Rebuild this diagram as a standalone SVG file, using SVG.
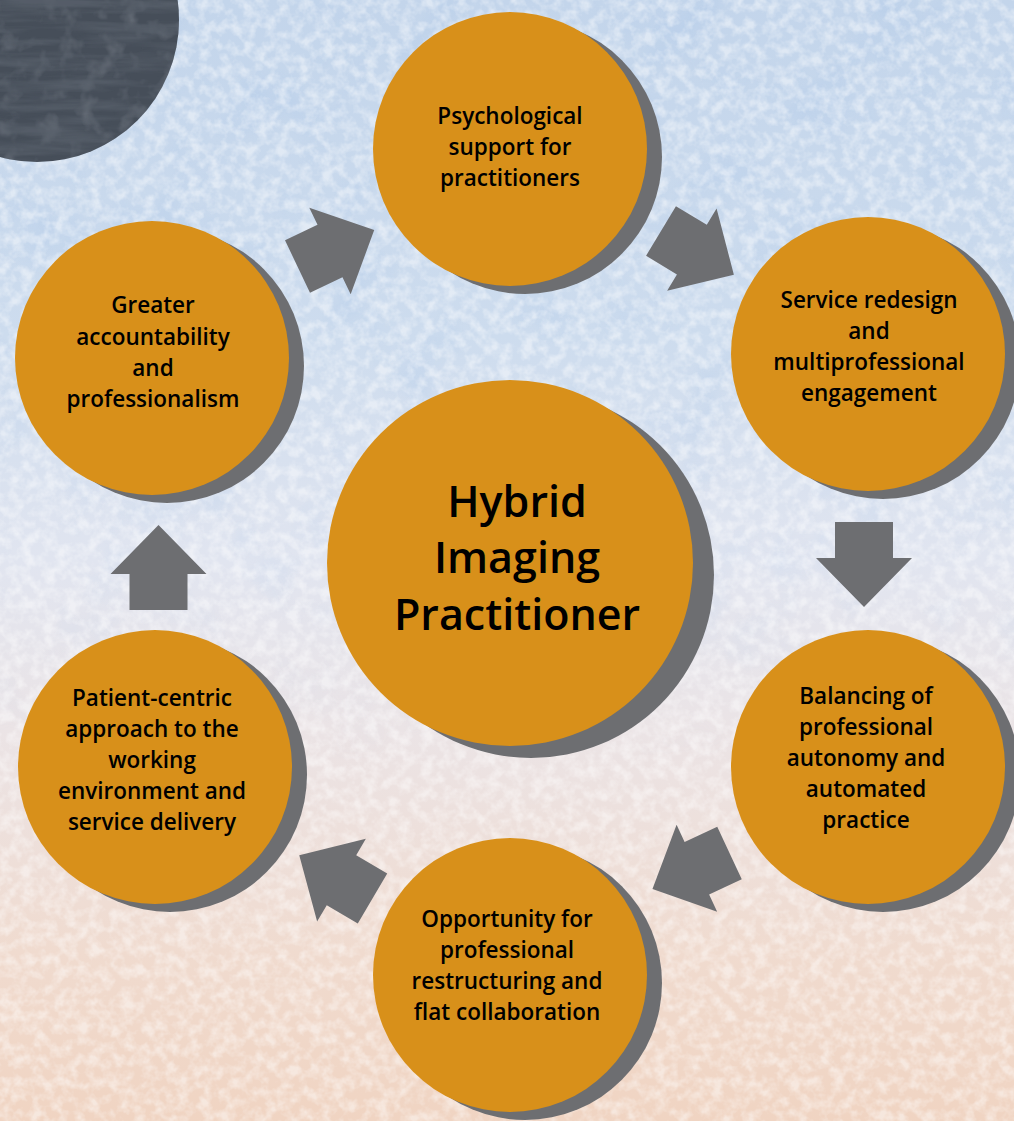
<svg xmlns="http://www.w3.org/2000/svg" width="1014" height="1121" viewBox="0 0 1014 1121">
<style>
.sh{fill:#6d6e71}
.nd{fill:#d8901a}
.arr{fill:#6d6e71}
.lbl{font-family:"Open Sans","Liberation Sans",sans-serif;font-weight:600;font-size:22.5px;fill:#000;text-anchor:middle}
.big{font-size:43px}
</style>
<defs>
<linearGradient id="bg" x1="0" y1="0" x2="0" y2="1">
<stop offset="0" stop-color="#c3d5eb"/>
<stop offset="0.3" stop-color="#cddcee"/>
<stop offset="0.5" stop-color="#e1e5f0"/>
<stop offset="0.65" stop-color="#ebe4e6"/>
<stop offset="0.85" stop-color="#f0dbcf"/>
<stop offset="1" stop-color="#f0d4c2"/>
</linearGradient>
<filter id="tex" x="0" y="0" width="100%" height="100%">
<feTurbulence type="fractalNoise" baseFrequency="0.09" numOctaves="3" seed="7"/>
<feColorMatrix type="matrix" values="0 0 0 0 1  0 0 0 0 1  0 0 0 0 1  2.6 0 0 0 -1.0"/>
</filter>
<filter id="tex2" x="0" y="0" width="100%" height="100%">
<feTurbulence type="fractalNoise" baseFrequency="0.015" numOctaves="4" seed="2"/>
<feColorMatrix type="matrix" values="0 0 0 0 0.45  0 0 0 0 0.6  0 0 0 0 0.82  0 2.6 0 0 -1.3"/>
</filter>
<filter id="slate" x="0" y="0" width="100%" height="100%">
<feTurbulence type="fractalNoise" baseFrequency="0.01 0.09" numOctaves="4" seed="5"/>
<feColorMatrix type="matrix" values="0 0 0 0 0.1  0 0 0 0 0.12  0 0 0 0 0.15  2.4 0 0 0 -0.9"/>
</filter>
<filter id="slate2" x="0" y="0" width="100%" height="100%">
<feTurbulence type="fractalNoise" baseFrequency="0.05" numOctaves="3" seed="9"/>
<feColorMatrix type="matrix" values="0 0 0 0 0.5  0 0 0 0 0.53  0 0 0 0 0.58  0 2.0 0 0 -1.0"/>
</filter>
<linearGradient id="fadeBlue" x1="0" y1="0" x2="0" y2="1">
<stop offset="0" stop-color="#fff" stop-opacity="1"/>
<stop offset="0.5" stop-color="#fff" stop-opacity="0.5"/>
<stop offset="0.68" stop-color="#fff" stop-opacity="0"/>
</linearGradient>
<mask id="blueMask"><rect width="1014" height="1121" fill="url(#fadeBlue)"/></mask>
<clipPath id="darkClip"><circle cx="37" cy="20" r="142"/></clipPath>
<path id="arrow" d="M0,-29 H36 V-48 L85,0 L36,48 V29 H0 Z"/>
</defs>

<g id="background">
<rect width="1014" height="1121" fill="url(#bg)"/>
<rect width="1014" height="1121" filter="url(#tex2)" mask="url(#blueMask)" opacity="0.5"/>
<rect width="1014" height="1121" filter="url(#tex)" opacity="0.45"/>
<g clip-path="url(#darkClip)">
<rect x="-110" y="-130" width="300" height="300" fill="#464e59"/>
<rect x="-110" y="-130" width="300" height="300" filter="url(#slate2)" opacity="0.35"/>
<rect x="-110" y="-130" width="300" height="300" filter="url(#slate)" opacity="0.8"/>
</g>
</g>

<g id="connectors">
<use href="#arrow" class="arr" transform="translate(297.5,266.5) rotate(-25.5)"/>
<use href="#arrow" class="arr" transform="translate(661,231) rotate(31)"/>
<use href="#arrow" class="arr" transform="translate(864,522) rotate(90)"/>
<use href="#arrow" class="arr" transform="translate(729.5,853) rotate(155)"/>
<use href="#arrow" class="arr" transform="translate(372.5,898.5) rotate(-149.5)"/>
<use href="#arrow" class="arr" transform="translate(158.5,610) rotate(-90)"/>
</g>

<g id="node-psychological">
<circle class="sh" cx="525" cy="157" r="137"/>
<circle class="nd" cx="510" cy="149" r="137"/>
<text class="lbl"><tspan x="510" y="124">Psychological</tspan><tspan x="510" y="155">support for</tspan><tspan x="510" y="186">practitioners</tspan></text>
</g>

<g id="node-service">
<circle class="sh" cx="883" cy="362" r="137"/>
<circle class="nd" cx="868" cy="354" r="137"/>
<text class="lbl"><tspan x="869" y="308">Service redesign</tspan><tspan x="869" y="339">and</tspan><tspan x="869" y="370">multiprofessional</tspan><tspan x="869" y="401">engagement</tspan></text>
</g>

<g id="node-balancing">
<circle class="sh" cx="883" cy="775" r="137"/>
<circle class="nd" cx="868" cy="767" r="137"/>
<text class="lbl"><tspan x="866" y="704">Balancing of</tspan><tspan x="866" y="735">professional</tspan><tspan x="866" y="766">autonomy and</tspan><tspan x="866" y="797">automated</tspan><tspan x="866" y="828">practice</tspan></text>
</g>

<g id="node-opportunity">
<circle class="sh" cx="525" cy="983" r="137"/>
<circle class="nd" cx="510" cy="975" r="137"/>
<text class="lbl"><tspan x="507" y="927">Opportunity for</tspan><tspan x="507" y="958">professional</tspan><tspan x="507" y="989">restructuring and</tspan><tspan x="507" y="1020">flat collaboration</tspan></text>
</g>

<g id="node-patient">
<circle class="sh" cx="170" cy="775" r="137"/>
<circle class="nd" cx="155" cy="767" r="137"/>
<text class="lbl"><tspan x="152" y="706">Patient-centric</tspan><tspan x="152" y="737">approach to the</tspan><tspan x="152" y="768">working</tspan><tspan x="152" y="799">environment and</tspan><tspan x="152" y="830">service delivery</tspan></text>
</g>

<g id="node-accountability">
<circle class="sh" cx="167" cy="366" r="137"/>
<circle class="nd" cx="152" cy="358" r="137"/>
<text class="lbl"><tspan x="153" y="313">Greater</tspan><tspan x="153" y="345">accountability</tspan><tspan x="153" y="376">and</tspan><tspan x="153" y="407">professionalism</tspan></text>
</g>

<g id="node-center">
<circle class="sh" cx="531" cy="575" r="183"/>
<circle class="nd" cx="510" cy="563" r="183"/>
<text class="lbl big"><tspan x="517" y="517">Hybrid</tspan><tspan x="517" y="573">Imaging</tspan><tspan x="517" y="630">Practitioner</tspan></text>
</g>
</svg>
